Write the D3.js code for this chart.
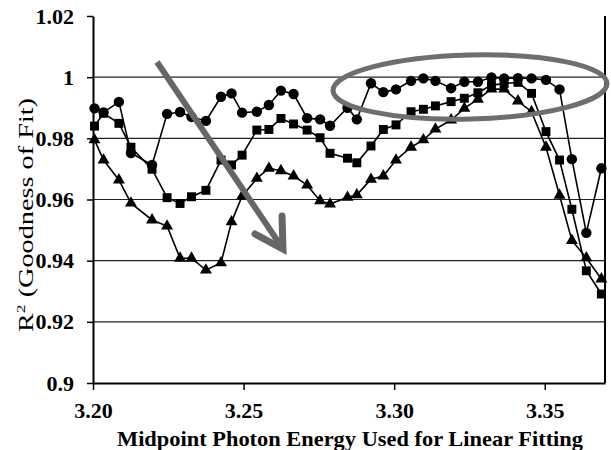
<!DOCTYPE html>
<html><head><meta charset="utf-8">
<script src="https://cdn.jsdelivr.net/npm/d3@7"></script>
<style>body{margin:0;background:#fff}svg{display:block}</style>
</head><body><svg id="c" width="611" height="450"></svg>
<script>
// Midpoint photon energy (eV)
const energies = [3.2005,3.2035,3.2086,3.2126,3.2196,3.2246,3.2289,3.2327,3.2375,3.2425,
  3.2460,3.2495,3.2544,3.2584,3.2624,3.2666,3.2711,3.2754,3.2787,3.2845,
  3.2876,3.2923,3.2964,3.3006,3.3056,3.3097,3.3137,3.3189,3.3233,3.3278,
  3.3323,3.3365,3.3411,3.3456,3.3504,3.3549,3.3590,3.3638,3.3688];
const circleR2 = [0.9898,0.9885,0.9919,0.9752,0.9713,0.9880,0.9886,0.9870,0.9857,0.9936,
  0.9947,0.9884,0.9887,0.9909,0.9956,0.9945,0.9866,0.9862,0.9841,0.9900,
  0.9862,0.9980,0.9951,0.9960,0.9988,0.9996,0.9988,0.9964,0.9985,0.9985,
  0.9999,0.9996,0.9997,0.9996,0.9991,0.9960,0.9732,0.9491,0.9702];
const squareR2 = [0.9840,0.9882,0.9849,0.9771,0.9699,0.9606,0.9587,0.9609,0.9630,0.9729,
  0.9713,0.9745,0.9827,0.9829,0.9865,0.9847,0.9827,0.9802,0.9751,0.9735,
  0.9720,0.9775,0.9829,0.9844,0.9887,0.9895,0.9906,0.9920,0.9931,0.9949,
  0.9974,0.9979,0.9983,0.9947,0.9822,0.9729,0.9568,0.9367,0.9291];
const triangleR2 = [0.9795,0.9729,0.9664,0.9588,0.9533,0.9513,0.9408,0.9408,0.9369,0.9393,
  0.9527,0.9611,0.9669,0.9702,0.9694,0.9677,0.9647,0.9596,0.9585,0.9607,
  0.9615,0.9666,0.9677,0.9729,0.9771,0.9795,0.9830,0.9860,0.9898,0.9928,
  0.9961,0.9961,0.9922,0.9887,0.9771,0.9614,0.9466,0.9409,0.9340];
const yTicks = [0.9,0.92,0.94,0.96,0.98,1.0,1.02];
const yTickLabels = ["0.9","0.92","0.94","0.96","0.98","1","1.02"];
const gridValues = [0.92,0.94,0.96,0.98,1.0];
const xTicks = [3.20,3.25,3.30,3.35];
const xTickLabels = ["3.20","3.25","3.30","3.35"];
const xTitle = "Midpoint Photon Energy Used for Linear Fitting";

const svg = d3.select("#c");
const x = d3.scaleLinear().domain([3.20,3.37]).range([93,605]);
const y = d3.scaleLinear().domain([0.9,1.02]).range([383,16]);
const serif = "'Liberation Serif','Times New Roman',serif";

// gridlines
svg.append("g").selectAll("line").data(gridValues).join("line")
  .attr("x1",x(3.20)).attr("x2",x(3.37))
  .attr("y1",d=>y(d)).attr("y2",d=>y(d))
  .attr("stroke","#222").attr("stroke-width",1.2);

// right border
svg.append("line").attr("x1",x(3.37)).attr("x2",x(3.37))
  .attr("y1",y(1.02)).attr("y2",y(0.9)).attr("stroke","#000").attr("stroke-width",2);

// y axis
const ya = svg.append("g").attr("transform",`translate(${x(3.20)},0)`)
  .call(d3.axisLeft(y).tickValues(yTicks).tickSize(6).tickSizeOuter(0)
    .tickFormat((d,i)=>yTickLabels[i]));
ya.attr("font-family",null).style("font-family",serif);
ya.select(".domain").attr("stroke","#000").attr("stroke-width",2);
ya.selectAll(".tick line").attr("stroke","#000").attr("stroke-width",1.5);
ya.selectAll(".tick text").style("font-family",serif).style("font-weight","bold")
  .style("font-size","22px").attr("fill","#000").attr("x",-19);

// x axis
const xa = svg.append("g").attr("transform",`translate(0,${y(0.9)})`)
  .call(d3.axisBottom(x).tickValues(xTicks).tickSize(7).tickSizeOuter(0)
    .tickFormat((d,i)=>xTickLabels[i]));
xa.attr("font-family",null).style("font-family",serif);
xa.select(".domain").attr("stroke","#000").attr("stroke-width",2);
xa.selectAll(".tick line").attr("stroke","#000").attr("stroke-width",1.5);
xa.selectAll(".tick text").style("font-family",serif).style("font-weight","bold")
  .style("font-size","22px").attr("fill","#000").attr("y",19);

// titles
svg.append("text").attr("x",350).attr("y",446).attr("text-anchor","middle")
  .style("font-family",serif).style("font-weight","bold").style("font-size","22px")
  .attr("textLength",466).attr("lengthAdjust","spacingAndGlyphs")
  .text(xTitle);
svg.append("text").attr("transform","translate(33,215) rotate(-90)")
  .attr("text-anchor","middle").style("font-family",serif).style("font-size","21px")
  .attr("textLength",234).attr("lengthAdjust","spacingAndGlyphs")
  .html("R<tspan dy='-8' font-size='13'>2</tspan><tspan dy='8'> (Goodness of Fit)</tspan>");

// series
const series = [
  {vals: circleR2, sym: d3.symbolCircle, size: 85},
  {vals: squareR2, sym: d3.symbolSquare, size: 80},
  {vals: triangleR2, sym: d3.symbolTriangle, size: 62}
];
const line = d3.line().x(d=>x(d[0])).y(d=>y(d[1]));
series.forEach(s=>{
  const pts = energies.map((e,i)=>[e,s.vals[i]]);
  svg.append("path").datum(pts).attr("d",line).attr("fill","none")
    .attr("stroke","#000").attr("stroke-width",1.6);
  svg.append("g").selectAll("path").data(pts).join("path")
    .attr("transform",d=>`translate(${x(d[0])},${y(d[1])})`)
    .attr("d",d3.symbol().type(s.sym).size(s.size)).attr("fill","#000");
});

// annotations: ellipse and arrow
svg.append("ellipse").attr("cx",470).attr("cy",87).attr("rx",137).attr("ry",32)
  .attr("transform","rotate(-1.5,470,87)")
  .attr("fill","none").attr("stroke","#6e6e6e").attr("stroke-width",5);
const ax0 = [157,62], ax1 = [283,249];
svg.append("line").attr("x1",ax0[0]).attr("y1",ax0[1]).attr("x2",ax1[0]-2).attr("y2",ax1[1]-3)
  .attr("stroke","#666").attr("stroke-width",6);
svg.append("path").attr("d",`M${ax1[0]-1},${ax1[1]-33} L${ax1[0]},${ax1[1]} L${ax1[0]-28},${ax1[1]-15}`)
  .attr("fill","none").attr("stroke","#666").attr("stroke-width",7)
  .attr("stroke-linecap","round").attr("stroke-linejoin","miter");
</script>
</body></html>
